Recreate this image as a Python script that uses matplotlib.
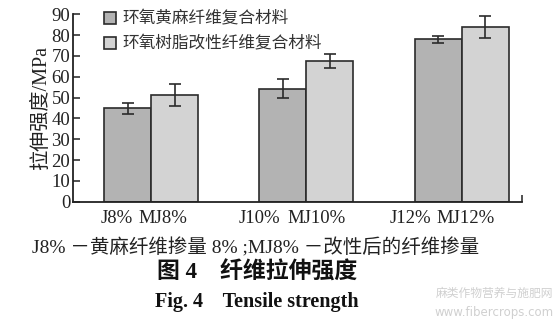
import numpy as np
import matplotlib
matplotlib.use("Agg")
import matplotlib.pyplot as plt
from matplotlib.transforms import ScaledTranslation

plt.rcParams['font.family'] = ['Liberation Serif', 'Noto Sans CJK SC']

groups = ["8%", "10%", "12%"]
tick_labels = ["J8%", "MJ8%", "J10%", "MJ10%", "J12%", "MJ12%"]
series_names = ["环氧黄麻纤维复合材料", "环氧树脂改性纤维复合材料"]
jute = [44.9, 54.2, 78.1]
jute_err = [2.6, 4.6, 1.7]
modified = [51.1, 67.6, 83.9]
modified_err = [5.2, 3.4, 5.3]

fig = plt.figure(figsize=(5.59, 3.21), dpi=100)
ax = fig.add_axes([0.1306, 0.3717, 0.8035, 0.5838])

x = np.arange(len(groups))
w = 0.303
kw = dict(edgecolor="#2b2b2b", linewidth=1.2, zorder=2)
ekw = dict(ecolor="#2b2b2b", elinewidth=1.2, capsize=4, capthick=1.2)
ax.bar(x - w / 2, jute, w, yerr=jute_err, color="#b3b3b3",
       label=series_names[0], error_kw=ekw, **kw)
ax.bar(x + w / 2, modified, w, yerr=modified_err, color="#d3d3d3",
       label=series_names[1], error_kw=ekw, **kw)

ax.set_xlim(-0.503, 2.39)
ax.set_ylim(0, 90)
ax.set_yticks(np.arange(0, 91, 10))
pos = np.ravel(np.column_stack([x - w / 2, x + w / 2]))
ax.set_xticks(pos)
ax.set_xticklabels(tick_labels)
ax.set_xticks([2.39], minor=True)
ax.tick_params(axis="x", which="both", direction="in", length=5, width=1.1,
               labelsize=13.5, pad=6, colors="#222222")
ax.tick_params(axis="y", direction="in", length=5, width=1.1, labelsize=13.5,
               pad=2, colors="#222222")

# labels in the original sit a bit left of the ticks
shift_px = [-11, -12, -23, -13, -28, -20]
for lab, dx in zip(ax.get_xticklabels(), shift_px):
    lab.set_transform(lab.get_transform() +
                      ScaledTranslation(dx / 100, 0, fig.dpi_scale_trans))

for s in ["top", "right"]:
    ax.spines[s].set_visible(False)
for s in ["left", "bottom"]:
    ax.spines[s].set_linewidth(1.3)
    ax.spines[s].set_color("#222222")

ax.set_ylabel("拉伸强度/MPa", fontsize=14.5, color="#222222", labelpad=0)

leg = ax.legend(loc="upper left", bbox_to_anchor=(0.055, 1.05), frameon=False,
                fontsize=12, handlelength=0.7, handleheight=0.7,
                handletextpad=0.4, labelspacing=0.55, borderaxespad=0)
for t in leg.get_texts():
    t.set_color("#333333")

fig.text(0.458, 0.227, "J8% －黄麻纤维掺量 8% ;MJ8% －改性后的纤维掺量",
         ha="center", va="center", fontsize=14, color="#222222")
fig.text(0.46, 0.152, "图 4    纤维拉伸强度", ha="center", va="center",
         fontsize=16.5, fontweight="bold", color="#111111")
fig.text(0.46, 0.06, "Fig. 4    Tensile strength", ha="center", va="center",
         fontsize=14.5, fontweight="bold", color="#111111")
fig.text(0.99, 0.085, "麻类作物营养与施肥网", ha="right", va="center",
         fontsize=8.5, color="#d0d0d0")
fig.text(0.99, 0.025, "www.fibercrops.com", ha="right", va="center",
         fontsize=8.5, color="#d0d0d0", family="DejaVu Sans")

fig.savefig("out.png", dpi=100)
